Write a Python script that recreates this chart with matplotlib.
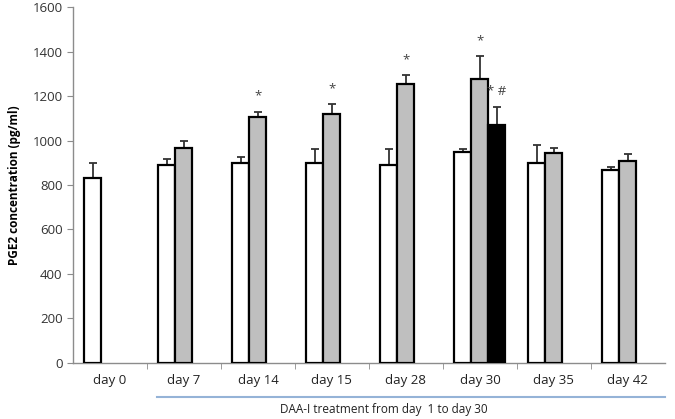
import numpy as np
import matplotlib.pyplot as plt
from matplotlib.transforms import blended_transform_factory

days = ["day 0", "day 7", "day 14", "day 15", "day 28", "day 30", "day 35", "day 42"]

# valeurs (pg/ml), None = pas de barre
control = [833, 890, 898, 900, 888, 948, 898, 868]
control_err = [67, 25, 30, 60, 75, 14, 80, 14]
treated = [None, 965, 1108, 1118, 1255, 1278, 945, 910]
treated_err = [None, 35, 22, 47, 40, 100, 23, 30]
black = [None, None, None, None, None, 1070, None, None]
black_err = [None, None, None, None, None, 82, None, None]

marks_treated = ["", "", "*", "*", "*", "*", "", ""]
marks_black = ["", "", "", "", "", "* #", "", ""]

plt.rcParams['font.family'] = ['Open Sans', 'DejaVu Sans']

fig = plt.figure(figsize=(6.75, 4.19), dpi=100)
ax = fig.add_axes([0.108, 0.134, 0.877, 0.849])

x = np.arange(len(days))
w = 0.23
axis_col = "#8c8c8c"


def draw(vals, errs, offset, color, marks=None):
    for i, (v, e) in enumerate(zip(vals, errs)):
        if v is None:
            continue
        ax.bar(x[i] + offset, v, w, color=color, edgecolor="black", linewidth=1.6, zorder=3)
        ax.errorbar(x[i] + offset, v, yerr=[[0], [e]], fmt="none", ecolor="#333333",
                    elinewidth=1.3, capsize=3, capthick=1.3, zorder=2)
        if marks and marks[i]:
            ax.text(x[i] + offset, v + e + 40, marks[i], ha="center", va="bottom",
                    fontsize=9.5, color="#444444")


draw(control, control_err, -w, "white")
draw(treated, treated_err, 0, "#bfbfbf", marks_treated)
draw(black, black_err, w, "black", marks_black)

ax.set_xlim(-0.5, len(days) - 0.5)
ax.set_ylim(0, 1600)
ax.set_yticks(np.arange(0, 1601, 200))
ax.set_xticks(x)
ax.set_xticklabels(days)
ax.set_xticks(np.arange(0.5, len(days) - 0.5, 1), minor=True)
ax.tick_params(axis="x", which="major", length=0, pad=8, labelsize=9.5, colors="#222222")
ax.tick_params(axis="x", which="minor", length=4, color=axis_col, direction="out")
ax.tick_params(axis="y", length=4, color=axis_col, labelsize=9.5, labelcolor="#333333")

for s in ["top", "right"]:
    ax.spines[s].set_visible(False)
for s in ["left", "bottom"]:
    ax.spines[s].set_color(axis_col)
    ax.spines[s].set_linewidth(1.0)

ax.set_ylabel("PGE2 concentration (pg/ml)", fontsize=8.5, fontweight="bold", labelpad=8)

# ligne bleue sous l'axe pour la période de traitement
trans = blended_transform_factory(ax.transData, fig.transFigure)
ax.plot([x[1] - 1.5 * w - 0.02, len(days) - 0.5], [0.053, 0.053], color="#95b3d7",
        linewidth=1.5, transform=trans, clip_on=False)
ax.text((x[3] + x[4]) / 2 + 0.2, 0.022, "DAA-I treatment from day  1 to day 30",
        ha="center", va="center", fontsize=8.5, transform=trans, color="#222222")

fig.savefig("out.png", dpi=100)
